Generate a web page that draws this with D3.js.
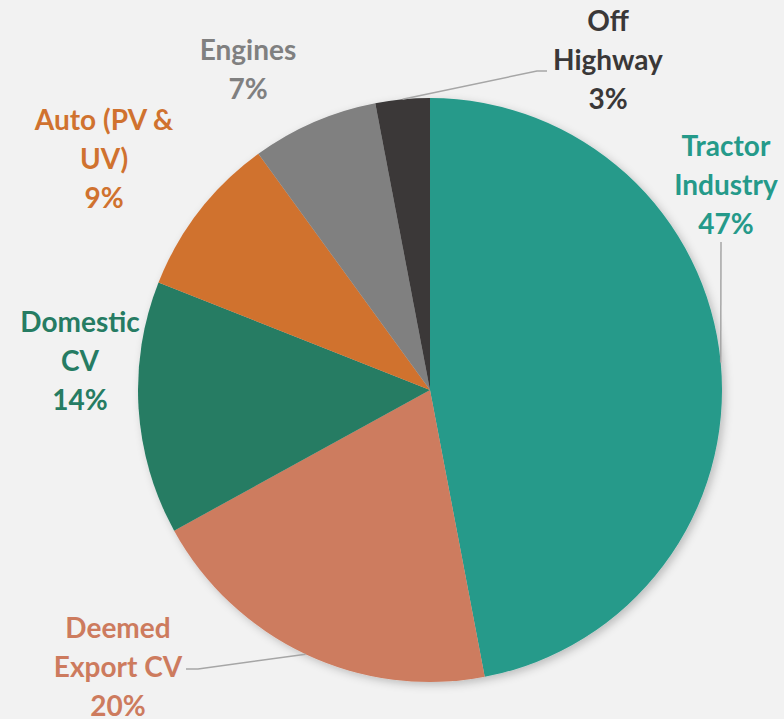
<!DOCTYPE html>
<html>
<head>
<meta charset="utf-8">
<script src="https://cdn.jsdelivr.net/npm/d3@7"></script>
<style>
  html, body { margin: 0; padding: 0; background: #f2f2f2; }
  svg { display: block; }
</style>
</head>
<body>
<svg id="chart" width="784" height="719"></svg>
<script>
// data
const categories = ['Tractor Industry', 'Deemed Export CV', 'Domestic CV', 'Auto (PV & UV)', 'Engines', 'Off Highway'];
const shares = [47, 20, 14, 9, 7, 3];
const labelLines = [['Tractor', 'Industry'], ['Deemed', 'Export CV'], ['Domestic', 'CV'], ['Auto (PV &', 'UV)'], ['Engines'], ['Off', 'Highway']];
const colors = ['#259a8a', '#cd7b5e', '#267c63', '#d0722f', '#808080', '#3a3838'];

const width = 784, height = 719;
const cx = 430, cy = 390, radius = 292;

// label placement (center x, center y of first line), and leader line elbow points
const labelLayout = {
    'Tractor Industry': { x: 726, y: 146, leader: [[721, 242]] },
    'Deemed Export CV': { x: 118, y: 628, leader: [[198, 669], [186, 669]] },
    'Domestic CV': { x: 80, y: 322 },
    'Auto (PV & UV)': { x: 104, y: 120 },
    'Engines': { x: 248, y: 50 },
    'Off Highway': { x: 608, y: 21, leader: [[537, 71], [547, 71]] }
};
const lineHeight = 39;

const rows = categories.map((c, i) => ({ name: c, value: shares[i], color: colors[i], lines: labelLines[i] }));

const svg = d3.select('#chart');

const defs = svg.append('defs');
const shadow = defs.append('filter')
    .attr('id', 'pieShadow')
    .attr('x', '-10%').attr('y', '-10%')
    .attr('width', '120%').attr('height', '120%');
shadow.append('feDropShadow')
    .attr('dx', 3).attr('dy', 3)
    .attr('stdDeviation', 4)
    .attr('flood-color', '#000')
    .attr('flood-opacity', 0.22);

const pie = d3.pie().sort(null).value(d => d.value);
const arcs = pie(rows);
const arc = d3.arc().innerRadius(0).outerRadius(radius);

const g = svg.append('g').attr('transform', `translate(${cx},${cy})`);

g.append('g')
    .attr('filter', 'url(#pieShadow)')
    .selectAll('path')
    .data(arcs)
    .join('path')
    .attr('fill', d => d.data.color)
    .attr('d', arc);

// leader lines from the rim at each slice's mid angle
const line = d3.line();
arcs.forEach(d => {
    const lay = labelLayout[d.data.name];
    if (!lay.leader) return;
    const mid = (d.startAngle + d.endAngle) / 2;
    const start = [cx + radius * Math.sin(mid), cy - radius * Math.cos(mid)];
    svg.append('path')
        .attr('d', line([start, ...lay.leader]))
        .attr('fill', 'none')
        .attr('stroke', '#a6a6a6')
        .attr('stroke-width', 1.5);
});

// labels
arcs.forEach(d => {
    const lay = labelLayout[d.data.name];
    const lines = d.data.lines.concat([d.data.value + '%']);
    const t = svg.append('text')
        .attr('text-anchor', 'middle')
        .attr('fill', d.data.color)
        .style('font-family', 'Lato, "Open Sans", sans-serif')
        .style('font-weight', 'bold')
        .style('font-size', '28px');
    lines.forEach((s, i) => {
        t.append('tspan')
            .attr('x', lay.x)
            .attr('y', lay.y + i * lineHeight)
            .attr('dy', '0.36em')
            .text(s);
    });
});
</script>
</body>
</html>
